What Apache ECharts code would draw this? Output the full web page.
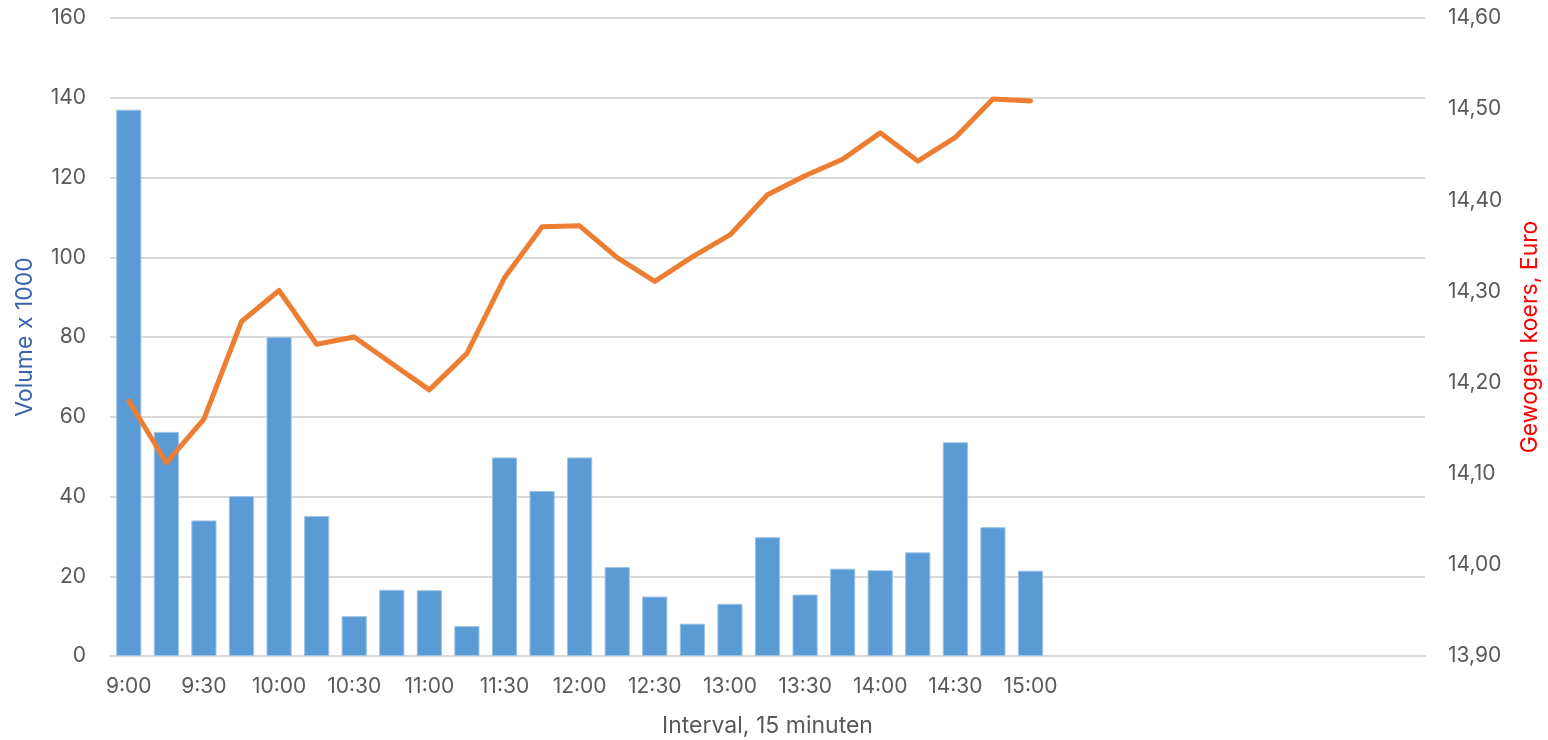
<!DOCTYPE html>
<html>
<head>
<meta charset="utf-8">
<script src="https://cdn.jsdelivr.net/npm/echarts@6/dist/echarts.min.js"></script>
<style>html,body{margin:0;padding:0;background:#fff}#c{width:1548px;height:740px}</style>
</head>
<body>
<div id="c"></div>
<script>
const categories = ['9:00','9:15','9:30','9:45','10:00','10:15','10:30','10:45','11:00','11:15','11:30','11:45','12:00','12:15','12:30','12:45','13:00','13:15','13:30','13:45','14:00','14:15','14:30','14:45','15:00','15:15','15:30','15:45','16:00','16:15','16:30','16:45','17:00','17:15','17:30'];
const lastLabelIndex = 24;
const volume = [137, 56.2, 34, 40.1, 80, 35.1, 10, 16.6, 16.5, 7.5, 49.8, 41.4, 49.8, 22.3, 14.9, 8.1, 13.1, 29.8, 15.4, 21.9, 21.5, 26, 53.6, 32.3, 21.4];
const price = [14.18, 14.112, 14.16, 14.267, 14.301, 14.242, 14.25, 14.221, 14.192, 14.232, 14.315, 14.371, 14.372, 14.337, 14.311, 14.338, 14.362, 14.406, 14.427, 14.445, 14.474, 14.443, 14.469, 14.511, 14.509];
const volumeTicks = {min: 0, max: 160, interval: 20};
const priceTicks = {min: 13.9, max: 14.6, interval: 0.1};

const font = 'Inter, "Liberation Sans", sans-serif';
const chart = echarts.init(document.getElementById('c'));
chart.setOption({
  animation: false,
  textStyle: {fontFamily: font},
  grid: {left: 110, right: 123, top: 18, bottom: 84, outerBoundsMode: 'none'},
  xAxis: {
    type: 'category',
    data: categories,
    boundaryGap: true,
    axisLine: {lineStyle: {color: '#D9D9D9', width: 2}},
    axisTick: {show: false},
    axisLabel: {
      interval: 0, margin: 20, fontSize: 21, color: '#595959', fontFamily: font,
      formatter: (v, i) => (i % 2 === 0 && i <= lastLabelIndex) ? v : ''
    },
    name: 'Interval, 15 minuten',
    nameLocation: 'middle',
    nameGap: 59,
    nameMoveOverlap: false,
    nameTextStyle: {fontSize: 23, color: '#595959', fontFamily: font}
  },
  yAxis: [{
    type: 'value',
    min: volumeTicks.min, max: volumeTicks.max, interval: volumeTicks.interval,
    axisLine: {show: false}, axisTick: {show: false},
    splitLine: {lineStyle: {color: '#D9D9D9', width: 2}},
    axisLabel: {margin: 24, fontSize: 21, color: '#595959', fontFamily: font},
    name: 'Volume x 1000',
    nameLocation: 'middle',
    nameGap: 73,
    nameRotate: 90,
    nameMoveOverlap: false,
    nameTextStyle: {fontSize: 23, color: '#3B64AD', fontFamily: font}
  }, {
    type: 'value',
    min: priceTicks.min, max: priceTicks.max, interval: priceTicks.interval,
    axisLine: {show: false}, axisTick: {show: false},
    splitLine: {show: false},
    axisLabel: {margin: 23, fontSize: 21, color: '#595959', fontFamily: font,
      formatter: v => v.toFixed(2).replace('.', ',')},
    name: 'Gewogen koers, Euro',
    nameLocation: 'middle',
    nameGap: 94,
    nameRotate: 90,
    nameMoveOverlap: false,
    nameTextStyle: {fontSize: 23, color: '#FF0000', fontFamily: font}
  }],
  series: [{
    type: 'bar',
    data: volume,
    yAxisIndex: 0,
    barCategoryGap: '33%',
    itemStyle: {color: '#5B9BD5', borderColor: '#9DC3E6', borderWidth: 1}
  }, {
    type: 'line',
    data: price,
    yAxisIndex: 1,
    symbol: 'none',
    lineStyle: {color: '#ED7D31', width: 5, join: 'round', cap: 'round'}
  }]
});
</script>
</body>
</html>
